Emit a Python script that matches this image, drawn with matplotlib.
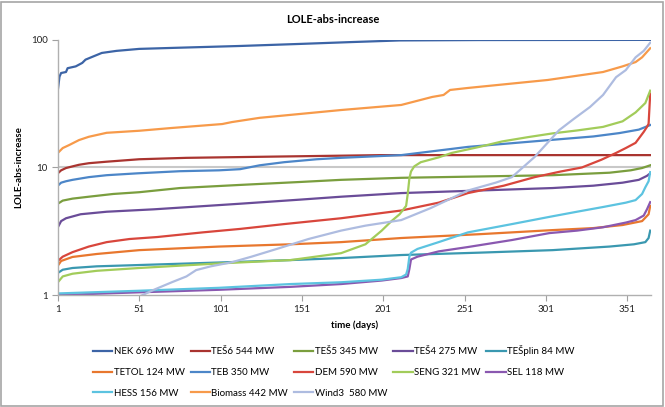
import matplotlib
matplotlib.use('Agg')
import matplotlib.pyplot as plt
from matplotlib.patches import Rectangle

plt.rcParams['font.family'] = ['Lato', 'DejaVu Sans']

# series: (day, LOLE) points
nek_d = [1, 2, 3, 6, 7, 12, 16, 18, 22, 28, 37, 51, 71, 113, 150, 180, 211, 260, 365]
nek_v = [40.5, 51.5, 55, 56, 60, 62, 66, 70, 73.5, 79, 82, 85, 86.5, 89.6, 93, 96, 99, 99.7, 100]

tes6_d = [1, 3, 6, 10, 14, 20, 31, 51, 80, 120, 160, 200, 365]
tes6_v = [9.0, 9.5, 9.9, 10.2, 10.5, 10.8, 11.1, 11.6, 11.9, 12.1, 12.3, 12.5, 12.5]

tes5_d = [1, 4, 10, 20, 35, 51, 76, 113, 150, 175, 212, 260, 305, 340, 353, 360, 365]
tes5_v = [5.2, 5.5, 5.7, 5.9, 6.2, 6.4, 6.9, 7.3, 7.7, 8.0, 8.3, 8.5, 8.7, 9.1, 9.5, 9.9, 10.4]

tes4_d = [1, 3, 6, 15, 31, 60, 82, 113, 150, 175, 212, 260, 305, 330, 348, 358, 363, 365]
tes4_v = [3.4, 3.8, 4.0, 4.3, 4.5, 4.7, 4.9, 5.2, 5.6, 5.9, 6.3, 6.6, 6.9, 7.2, 7.6, 8.0, 8.6, 9.0]

tesplin_d = [1, 4, 10, 25, 51, 100, 144, 175, 212, 260, 305, 340, 355, 362, 364, 365]
tesplin_v = [1.49, 1.58, 1.63, 1.68, 1.72, 1.8, 1.88, 1.95, 2.06, 2.15, 2.25, 2.4, 2.5, 2.6, 2.8, 3.2]

tetol_d = [1, 3, 10, 25, 51, 100, 144, 175, 212, 260, 305, 330, 348, 360, 364, 365]
tetol_v = [1.7, 1.85, 1.99, 2.1, 2.25, 2.4, 2.5, 2.6, 2.8, 3.0, 3.23, 3.35, 3.54, 3.8, 4.3, 5.0]

teb_d = [1, 3, 6, 10, 20, 31, 50, 76, 100, 113, 125, 140, 160, 175, 212, 253, 280, 303, 330, 346, 358, 365]
teb_v = [7.2, 7.6, 7.8, 8.0, 8.4, 8.7, 9.0, 9.35, 9.5, 9.7, 10.4, 11.0, 11.6, 11.9, 12.5, 14.5, 15.5, 16.4, 17.5, 18.6, 19.8, 21.5]

dem_d = [1, 4, 10, 20, 31, 45, 62, 90, 113, 140, 175, 212, 235, 253, 275, 294, 310, 323, 335, 344, 350, 356, 361, 363, 364, 365]
dem_v = [1.85, 2.0, 2.17, 2.4, 2.6, 2.75, 2.85, 3.1, 3.3, 3.6, 4.0, 4.6, 5.3, 6.3, 7.2, 8.4, 9.3, 10.0, 11.5, 13.0, 14.2, 15.6, 19.0, 20.8, 22, 38]

seng_d = [1, 4, 10, 25, 51, 100, 144, 175, 190, 200, 206, 211, 215, 216, 217, 218, 220, 224, 235, 243, 260, 274, 290, 305, 320, 336, 348, 356, 362, 365]
seng_v = [1.26, 1.4, 1.47, 1.55, 1.63, 1.77, 1.88, 2.13, 2.5, 3.2, 3.8, 4.3, 5.0, 6.2, 8.2, 9.3, 10.2, 11.0, 12.0, 13.0, 14.5, 16.0, 17.3, 18.5, 19.5, 20.8, 23, 27, 32, 40]

sel_d = [1, 50, 100, 144, 175, 200, 212, 216, 217, 218, 222, 235, 253, 280, 303, 320, 336, 350, 356, 361, 363, 365]
sel_v = [1.0, 1.05, 1.1, 1.16, 1.22, 1.3, 1.36, 1.4, 1.6, 1.9, 2.0, 2.2, 2.38, 2.7, 3.06, 3.2, 3.4, 3.7, 3.87, 4.2, 4.7, 5.35]

hess_d = [1, 50, 100, 144, 175, 200, 212, 215, 216, 217, 218, 222, 235, 253, 280, 303, 320, 336, 350, 356, 360, 362, 364, 365]
hess_v = [1.03, 1.08, 1.14, 1.22, 1.26, 1.32, 1.38, 1.45, 1.6, 2.0, 2.15, 2.3, 2.6, 3.1, 3.6, 4.1, 4.5, 4.9, 5.3, 5.55, 6.2, 7.0, 7.8, 9.2]

bio_d = [1, 4, 8, 14, 20, 31, 51, 71, 102, 108, 125, 175, 212, 231, 238, 242, 253, 302, 336, 348, 356, 360, 365]
bio_v = [13.0, 14.2, 15.0, 16.4, 17.4, 18.7, 19.4, 20.4, 21.9, 22.7, 24.5, 28.2, 30.9, 35.7, 37, 40.5, 42, 48.5, 56, 62, 67, 73, 86]

wind_d = [1, 25, 53, 60, 71, 80, 86, 95, 108, 120, 137, 155, 175, 190, 212, 230, 253, 270, 280, 294, 309, 318, 328, 336, 344, 350, 356, 361, 365]
wind_v = [0.5, 0.7, 1.0, 1.1, 1.26, 1.4, 1.57, 1.68, 1.81, 2.0, 2.33, 2.75, 3.2, 3.5, 3.87, 4.8, 6.6, 7.6, 8.4, 12.1, 19.6, 24, 29.8, 37, 51, 58, 73, 82, 95]

names = ['NEK 696 MW', 'TEŠ6 544 MW', 'TEŠ5 345 MW', 'TEŠ4 275 MW', 'TEŠplin 84 MW',
         'TETOL 124 MW', 'TEB 350 MW', 'DEM 590 MW', 'SENG 321 MW', 'SEL 118 MW',
         'HESS 156 MW', 'Biomass 442 MW', 'Wind3  580 MW']
days = [nek_d, tes6_d, tes5_d, tes4_d, tesplin_d, tetol_d, teb_d, dem_d, seng_d, sel_d, hess_d, bio_d, wind_d]
vals = [nek_v, tes6_v, tes5_v, tes4_v, tesplin_v, tetol_v, teb_v, dem_v, seng_v, sel_v, hess_v, bio_v, wind_v]
colors = ['#3C64A6', '#A93430', '#7A9E3E', '#6A4C98', '#3A98B0',
          '#E8772E', '#4C86C8', '#D8463C', '#A2CC5A', '#8A58B0',
          '#5CC3E0', '#F79A4A', '#AEBCE0']
xticks = [1, 51, 101, 151, 201, 251, 301, 351]

fig = plt.figure(figsize=(6.65, 4.07), dpi=100)
ax = fig.add_axes([0.087, 0.275, 0.892, 0.627])

lines = []
for d, v, c, n in zip(days, vals, colors, names):
    ln, = ax.plot(d, v, color=c, lw=1.6, label=n, solid_joinstyle='round')
    lines.append(ln)

ax.set_yscale('log')
ax.set_ylim(1, 100)
ax.set_xlim(1, 365.5)
ax.set_yticks([1, 10, 100])
ax.set_yticklabels(['1', '10', '100'])
ax.minorticks_off()
ax.set_xticks(xticks)
ax.set_xticklabels([str(t) for t in xticks])
ax.tick_params(axis='both', labelsize=7, colors='#a0a0a0', labelcolor='#222222', length=4, width=0.8)
ax.axhline(10, color='#c8c8c8', lw=1.5, zorder=0)
for s in ['top', 'right']:
    ax.spines[s].set_visible(False)
for s in ['left', 'bottom']:
    ax.spines[s].set_color('#b0b0b0')
    ax.spines[s].set_linewidth(1.0)

ax.set_xlabel('time (days)', fontsize=7, fontweight='bold', labelpad=4)
ax.set_ylabel('LOLE-abs-increase', fontsize=7, fontweight='bold', labelpad=5)
fig.text(0.5, 0.951, 'LOLE-abs-increase', ha='center', va='center', fontsize=8, fontweight='bold')

# legend fills column-wise, reorder so rows read like the original
order = [0, 5, 10, 1, 6, 11, 2, 7, 12, 3, 8, 4, 9]
fig.legend([lines[i] for i in order], [names[i] for i in order], ncol=5,
           loc='center', bbox_to_anchor=(0.502, 0.087), frameon=False, fontsize=7,
           handlelength=2.0, handletextpad=0.15, columnspacing=0.6, labelspacing=1.2)

fig.patches.append(Rectangle((0.002, 0.003), 0.995, 0.993, transform=fig.transFigure,
                             fill=False, edgecolor='#a6a6a6', lw=1.2))

fig.savefig('out.png', dpi=100)
